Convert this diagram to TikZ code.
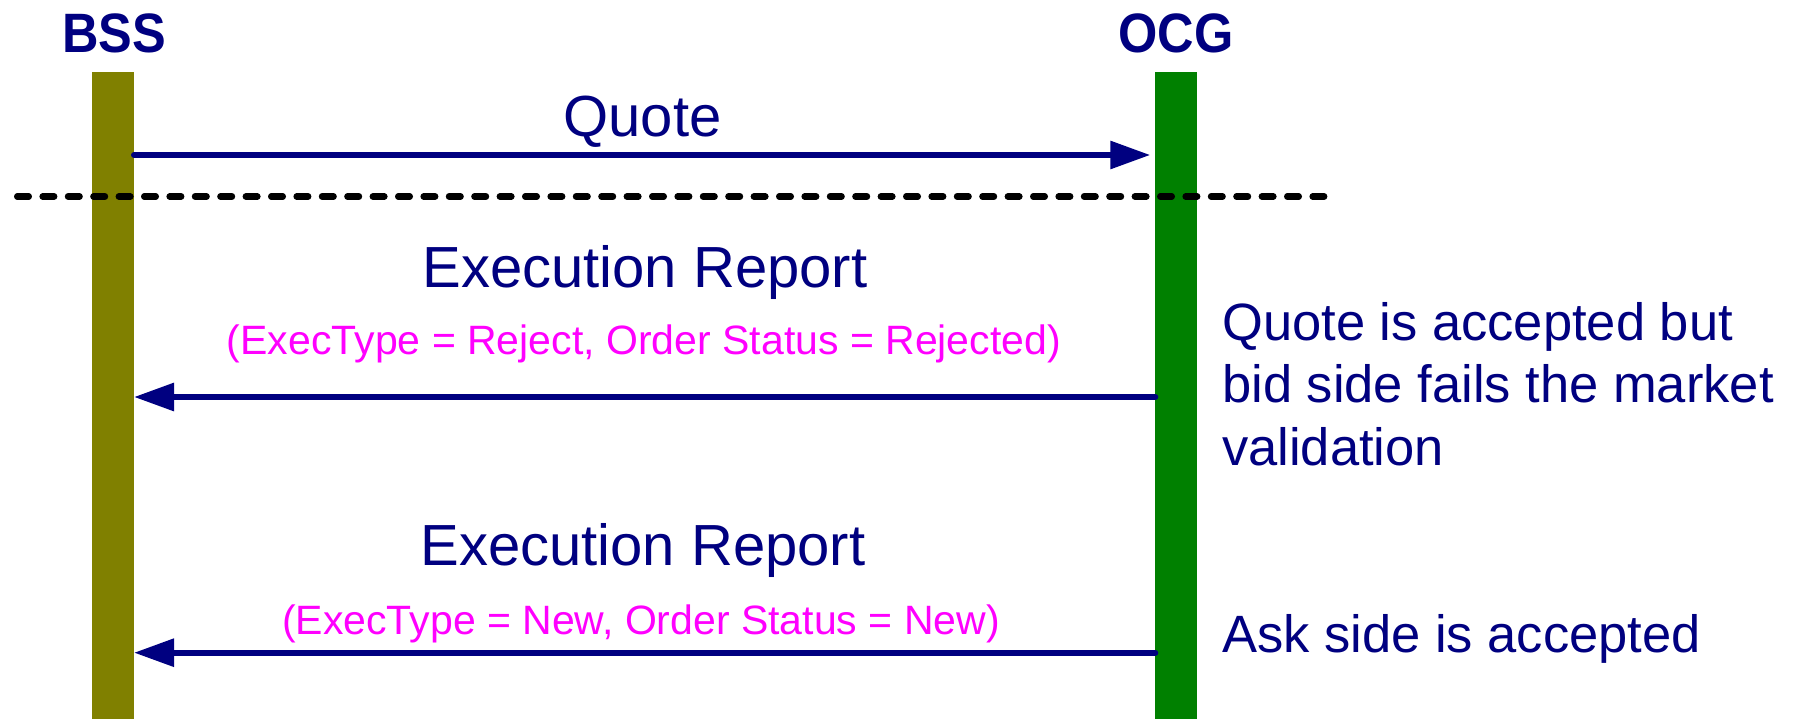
\documentclass[tikz,border=0pt]{standalone}
\usepackage{fontspec}
\setmainfont{Liberation Sans}
\usetikzlibrary{arrows.meta}
\definecolor{navy}{RGB}{0,0,128}
\definecolor{ocggreen}{RGB}{0,128,0}
\definecolor{bssolive}{RGB}{128,128,0}
\definecolor{pinkish}{RGB}{255,0,255}
\begin{document}
\begin{tikzpicture}[x=1pt,y=-1pt,
  bar/.style={inner sep=0pt, outer sep=0pt, minimum width=42pt, minimum height=647pt, anchor=north, draw=none},
  head/.style={inner sep=0pt, anchor=base, text=navy, font=\fontsize{55.5}{60}\selectfont\bfseries},
  msg/.style={line width=6pt, draw=navy, line cap=round, -{Triangle[length=40pt,width=27pt]}},
  lbl/.style={inner sep=0pt, anchor=base, text=navy, font=\fontsize{58}{66}\selectfont},
  sub/.style={inner sep=0pt, anchor=base, text=pinkish, font=\fontsize{41}{48}\selectfont},
  note/.style={inner sep=0pt, anchor=base west, text=navy, font=\fontsize{52.5}{62.5}\selectfont},
  sepline/.style={line width=6.5pt, line cap=round, dash pattern=on 11.5pt off 13.9pt}
]
\fill[white] (0,0) rectangle (1796,719);
\useasboundingbox (0,0) rectangle (1796,719);
% lifelines
\node[bar, fill=bssolive] (bssbar) at (113,72) {};
\node[bar, fill=ocggreen] (ocgbar) at (1176.3,72) {};
\node[head] (bss) at (114,53) {\scalebox{0.91}[1]{BSS}};
\node[head] (ocg) at (1176,53) {\scalebox{0.91}[1]{OCG}};
% message heights
\coordinate (yq) at (0,155);
\coordinate (y1) at (0,397);
\coordinate (y2) at (0,652.7);
% Quote
\node[lbl] (quote) at (642.5,137) {Quote};
\draw[msg, shorten >=5pt] (bssbar.east |- yq) -- (ocgbar.west |- yq);
% separator
\coordinate (dl) at (17.25,196.5);
\coordinate (dr) at (1324.2,196.5);
\draw[sepline] (dl) -- (dr);
% Execution report 1
\node[lbl] (er1) at (645,288) {Execution Report};
\node[sub] (st1) at (644,354) {(ExecType = Reject, Order Status = Rejected)};
\draw[msg] (ocgbar.west |- y1) -- (bssbar.east |- y1);
% Execution report 2
\node[lbl] (er2) at (643,565) {Execution Report};
\node[sub] (st2) at (641,634) {(ExecType = New, Order Status = New)};
\draw[msg] (ocgbar.west |- y2) -- (bssbar.east |- y2);
% notes
\node[note] (n1a) at (1222,340) {Quote is accepted but};
\node[note] (n1b) at (1222,402.5) {bid side fails the market};
\node[note] (n1c) at (1222,465) {validation};
\node[note] (n2) at (1222,652) {Ask side is accepted};
\end{tikzpicture}
\end{document}
